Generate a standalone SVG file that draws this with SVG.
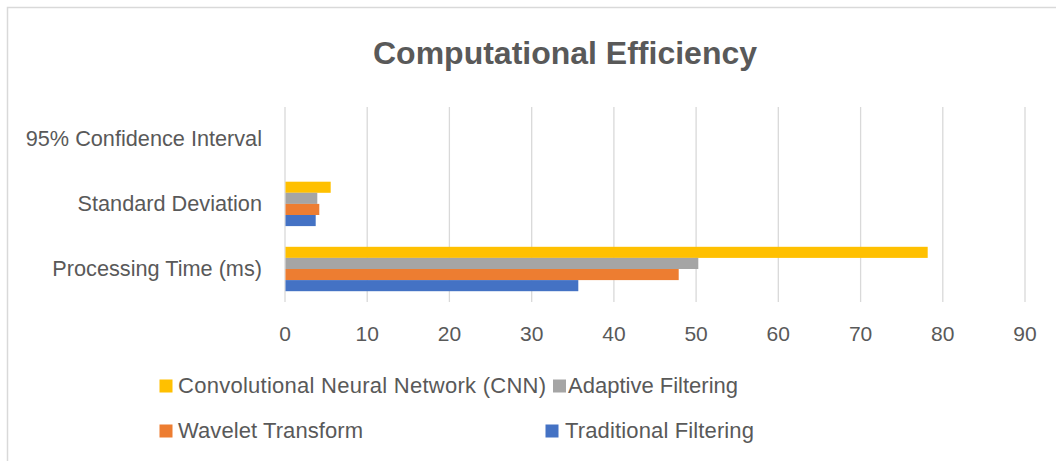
<svg xmlns="http://www.w3.org/2000/svg" width="1056" height="461" viewBox="0 0 1056 461">
  <style>
    .txt { font-family: "Liberation Sans", Arial, sans-serif; fill: #595959; }
    .title { font-size: 32px; font-weight: bold; text-anchor: middle; }
    .cat { font-size: 21.7px; text-anchor: end; }
    .tick { font-size: 21px; text-anchor: middle; }
    .leg { font-size: 22px; }
    .grid line { stroke: #d9d9d9; stroke-width: 1.3; }
    .cnn { fill: #FFC000; }
    .ada { fill: #A5A5A5; }
    .wav { fill: #ED7D31; }
    .tra { fill: #4472C4; }
  </style>

  <!-- chart area background and frame -->
  <rect x="0" y="0" width="1056" height="461" fill="#ffffff"/>
  <path d="M7.5,461 V7.5 H1056" fill="none" stroke="#d9d9d9" stroke-width="1.5"/>

  <text id="title" class="txt title" x="565" y="63.5">Computational Efficiency</text>

  <!-- vertical value gridlines, 0..90 step 10 -->
  <g id="gridlines" class="grid">
    <line x1="285" y1="107" x2="285" y2="302"/>
    <line x1="367.2" y1="107" x2="367.2" y2="302"/>
    <line x1="449.4" y1="107" x2="449.4" y2="302"/>
    <line x1="531.7" y1="107" x2="531.7" y2="302"/>
    <line x1="613.9" y1="107" x2="613.9" y2="302"/>
    <line x1="696.1" y1="107" x2="696.1" y2="302"/>
    <line x1="778.3" y1="107" x2="778.3" y2="302"/>
    <line x1="860.6" y1="107" x2="860.6" y2="302"/>
    <line x1="942.8" y1="107" x2="942.8" y2="302"/>
    <line x1="1025" y1="107" x2="1025" y2="302"/>
  </g>

  <!-- category axis labels -->
  <g id="category-axis">
    <text class="txt cat" x="262" y="146">95% Confidence Interval</text>
    <text class="txt cat" x="262" y="211">Standard Deviation</text>
    <text class="txt cat" x="262" y="276">Processing Time (ms)</text>
  </g>

  <!-- value axis labels -->
  <g id="value-axis">
    <text class="txt tick" x="285" y="341">0</text>
    <text class="txt tick" x="367.2" y="341">10</text>
    <text class="txt tick" x="449.4" y="341">20</text>
    <text class="txt tick" x="531.7" y="341">30</text>
    <text class="txt tick" x="613.9" y="341">40</text>
    <text class="txt tick" x="696.1" y="341">50</text>
    <text class="txt tick" x="778.3" y="341">60</text>
    <text class="txt tick" x="860.6" y="341">70</text>
    <text class="txt tick" x="942.8" y="341">80</text>
    <text class="txt tick" x="1025" y="341">90</text>
  </g>

  <!-- bars: Standard Deviation -->
  <g id="bars-standard-deviation">
    <rect class="cnn" x="285.5" y="181.7" width="45.2" height="11.1"/>
    <rect class="ada" x="285.5" y="192.8" width="31.8" height="11.1"/>
    <rect class="wav" x="285.5" y="203.9" width="33.8" height="11.1"/>
    <rect class="tra" x="285.5" y="215.0" width="30.2" height="11.1"/>
  </g>

  <!-- bars: Processing Time (ms) -->
  <g id="bars-processing-time">
    <rect class="cnn" x="285.5" y="246.8" width="642.2" height="11.1"/>
    <rect class="ada" x="285.5" y="257.9" width="412.8" height="11.1"/>
    <rect class="wav" x="285.5" y="269.0" width="393.2" height="11.1"/>
    <rect class="tra" x="285.5" y="280.1" width="292.8" height="11.1"/>
  </g>

  <!-- legend -->
  <g id="legend">
    <g id="legend-cnn">
      <rect class="cnn" x="159.5" y="379.5" width="13" height="13"/>
      <text class="txt leg" x="178" y="393.3" textLength="368">Convolutional Neural Network (CNN)</text>
    </g>
    <g id="legend-adaptive">
      <rect class="ada" x="553" y="379.5" width="13" height="13"/>
      <text class="txt leg" x="568" y="393.3" textLength="170">Adaptive Filtering</text>
    </g>
    <g id="legend-wavelet">
      <rect class="wav" x="159.5" y="424.5" width="13" height="13"/>
      <text class="txt leg" x="178" y="437.8" textLength="185">Wavelet Transform</text>
    </g>
    <g id="legend-traditional">
      <rect class="tra" x="545.5" y="424.5" width="13" height="13"/>
      <text class="txt leg" x="565" y="437.8" textLength="189">Traditional Filtering</text>
    </g>
  </g>
</svg>
